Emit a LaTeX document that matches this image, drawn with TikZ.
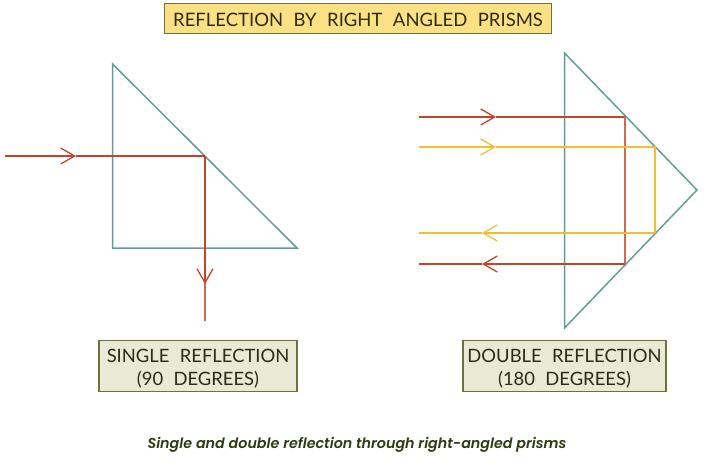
\documentclass[tikz,border=0pt]{standalone}
\usepackage{fontspec}
\setmainfont{Poppins}
\newfontfamily\boxfont[WordSpace=2.2]{Lato}
\newfontfamily\captionfont{Poppins SemiBold Italic}
\usetikzlibrary{arrows.meta}
\definecolor{prismteal}{HTML}{5F9F98}
\definecolor{rayred}{HTML}{C4432B}
\definecolor{rayyellow}{HTML}{EFBF33}
\definecolor{titlefill}{HTML}{FBE183}
\definecolor{labelfill}{HTML}{E9E9D6}
\definecolor{boxedge}{HTML}{70703A}
\definecolor{inkdark}{HTML}{2C2C14}
\definecolor{captionink}{HTML}{2E3A12}
\newcommand{\boxstrut}{\rule{0pt}{18.5pt}}
\tikzset{
    prism/.style={draw=prismteal, line width=1.5pt, line join=miter},
    redray/.style={draw=rayred, line width=1.1pt},
    paleray/.style={draw=rayred!80, line width=1.1pt},
    yellowray/.style={draw=rayyellow, line width=2.1pt},
    barb/.style={-{Straight Barb[length=14pt, width=16pt, line width=1.3pt]}},
    titlebox/.style={draw=boxedge, fill=titlefill, line width=1.2pt, minimum width=387pt, minimum height=30pt, inner sep=0pt, text=inkdark, text height=15.3pt, font=\boxfont\fontsize{18.5pt}{21pt}\selectfont},
    labelbox/.style={draw=boxedge, fill=labelfill, line width=1.2pt, minimum height=51pt, inner sep=0pt, align=center, text=inkdark, font=\boxfont\fontsize{18.4pt}{23pt}\selectfont}
}
\begin{document}
\begin{tikzpicture}[x=1pt, y=-1pt]
    \useasboundingbox (0,0) rectangle (711,469);

    \coordinate (lefttop) at (112.5,64);
    \coordinate (leftcorner) at (112.5,248);
    \coordinate (lefttip) at (297,248);
    \draw[prism] (lefttop) -- (leftcorner) -- (lefttip) -- cycle;

    \coordinate (righttop) at (564.5,53);
    \coordinate (rightbottom) at (564.5,328);
    \coordinate (rightapex) at (697,190);
    \draw[prism] (righttop) -- (rightbottom) -- (rightapex) -- cycle;

    \coordinate (singlein) at (5,156);
    \coordinate (singlebarb) at (76,156);
    \coordinate (singlehit) at (205,156);
    \coordinate (singledown) at (205,284);
    \coordinate (singleout) at (205,321);
    \draw[redray, barb] (singlein) -- (singlebarb);
    \draw[redray] (singlebarb) -- (singlehit);
    \draw[paleray] (singlehit) -- (singleout);
    \draw[redray, barb] (singlehit) -- (singledown);

    \coordinate (redin) at (419,117);
    \coordinate (redbarb) at (496,117);
    \coordinate (redtop) at (625,117);
    \coordinate (redbottom) at (625,264);
    \coordinate (redbarbback) at (482,264);
    \coordinate (redout) at (419,264);
    \draw[redray, barb] (redin) -- (redbarb);
    \draw[redray] (redbarb) -- (redtop);
    \draw[paleray] (redtop) -- (redbottom);
    \draw[redray, barb] (redbottom) -- (redbarbback);
    \draw[redray] (redbarbback) -- (redout);

    \coordinate (yellowin) at (419,147);
    \coordinate (yellowbarb) at (496,147);
    \coordinate (yellowtop) at (655,147);
    \coordinate (yellowbottom) at (655,233);
    \coordinate (yellowbarbback) at (482,233);
    \coordinate (yellowout) at (419,233);
    \draw[yellowray, barb] (yellowin) -- (yellowbarb);
    \draw[yellowray] (yellowbarb) -- (yellowtop) -- (yellowbottom);
    \draw[yellowray, barb] (yellowbottom) -- (yellowbarbback);
    \draw[yellowray] (yellowbarbback) -- (yellowout);

    \draw (358,18.5) node[titlebox] (title) {REFLECTION BY RIGHT ANGLED PRISMS};
    \draw (198,366) node[labelbox, minimum width=198pt] (singlelabel) {\boxstrut SINGLE REFLECTION\\(90 DEGREES)};
    \draw (564.5,366) node[labelbox, minimum width=203pt] (doublelabel) {\boxstrut DOUBLE REFLECTION\\(180 DEGREES)};
    \draw (357,445) node[text=captionink, font=\captionfont\fontsize{14.3pt}{17pt}\selectfont] (caption) {Single and double reflection through right-angled prisms};
\end{tikzpicture}
\end{document}
